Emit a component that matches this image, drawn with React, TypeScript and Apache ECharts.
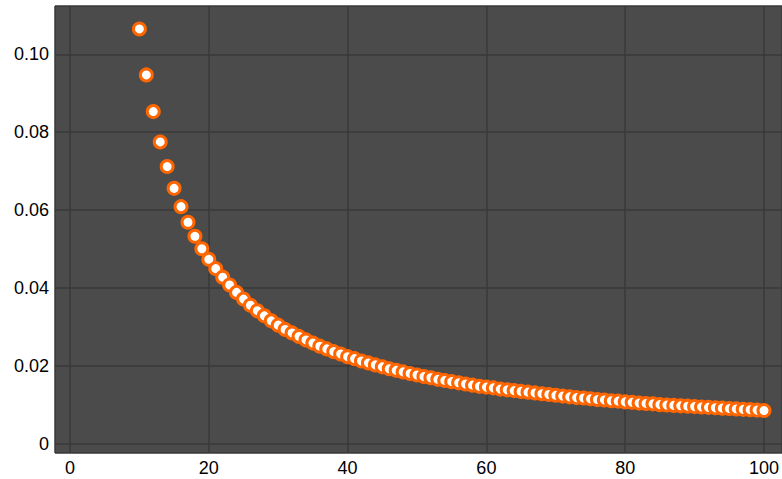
import React, { useEffect, useRef } from "react";
import * as echarts from "echarts";

const xValues: number[] = [
  10, 11, 12, 13, 14, 15, 16, 17, 18, 19,
  20, 21, 22, 23, 24, 25, 26, 27, 28, 29,
  30, 31, 32, 33, 34, 35, 36, 37, 38, 39,
  40, 41, 42, 43, 44, 45, 46, 47, 48, 49,
  50, 51, 52, 53, 54, 55, 56, 57, 58, 59,
  60, 61, 62, 63, 64, 65, 66, 67, 68, 69,
  70, 71, 72, 73, 74, 75, 76, 77, 78, 79,
  80, 81, 82, 83, 84, 85, 86, 87, 88, 89,
  90, 91, 92, 93, 94, 95, 96, 97, 98, 99,
  100,
];

const yValues: number[] = [
  0.1065, 0.0947, 0.0853, 0.0775, 0.0712, 0.0656, 0.0609, 0.0569, 0.0533, 0.0501,
  0.0474, 0.045, 0.0428, 0.0408, 0.0389, 0.0372, 0.0356, 0.0342, 0.0329, 0.0316,
  0.0305, 0.0294, 0.0285, 0.0276, 0.0267, 0.0259, 0.0251, 0.0244, 0.0237, 0.0231,
  0.0224, 0.0219, 0.0213, 0.0208, 0.0203, 0.0198, 0.0193, 0.0189, 0.0185, 0.0181,
  0.0177, 0.0173, 0.017, 0.0166, 0.0163, 0.016, 0.0157, 0.0154, 0.0151, 0.0148,
  0.0146, 0.0144, 0.0141, 0.0139, 0.0137, 0.0135, 0.0133, 0.0131, 0.0129, 0.0127,
  0.0125, 0.0123, 0.0121, 0.0119, 0.0118, 0.0116, 0.0114, 0.0113, 0.0111, 0.011,
  0.0108, 0.0107, 0.0105, 0.0104, 0.0103, 0.0101, 0.01, 0.0099, 0.0098, 0.0097,
  0.0096, 0.0095, 0.0094, 0.0093, 0.0092, 0.0091, 0.009, 0.0089, 0.0088, 0.0087,
  0.0086,
];

const xTickLabels: string[] = ["0", "20", "40", "60", "80", "100"];
const yTickLabels: string[] = ["0", "0.02", "0.04", "0.06", "0.08", "0.10"];

export default function App() {
  const ref = useRef<HTMLDivElement>(null);

  useEffect(() => {
    if (!ref.current) return;
    const chart = echarts.init(ref.current, null, { renderer: "svg" });
    const points = xValues.map((x, i) => [x, yValues[i]]);
    const fmtX = (v: number) => {
      const s = String(Math.round(v));
      return Math.abs(v - Math.round(v)) < 1e-6 && xTickLabels.includes(s) ? s : "";
    };
    const fmtY = (v: number) => {
      const s = v === 0 ? "0" : v.toFixed(2);
      return Math.abs(v * 50 - Math.round(v * 50)) < 1e-6 && yTickLabels.includes(s) ? s : "";
    };
    chart.setOption({
      animation: false,
      backgroundColor: "#ffffff",
      grid: {
        left: 55,
        top: 6,
        right: 0,
        bottom: 26,
        containLabel: false,
        show: true,
        backgroundColor: "#4b4b4b",
        borderWidth: 0,
      },
      xAxis: {
        type: "value",
        min: -2.161,
        max: 102.594,
        axisLine: { show: false },
        axisTick: { show: false },
        splitLine: { show: true, lineStyle: { color: "#393939", width: 1.5 } },
        axisLabel: {
          show: true,
          color: "#000000",
          fontSize: 18,
          fontFamily: "Liberation Sans, Arial, sans-serif",
          margin: 6,
          showMinLabel: false,
          showMaxLabel: false,
          formatter: fmtX,
        },
      },
      yAxis: {
        type: "value",
        min: -0.00231,
        max: 0.11239,
        axisLine: { show: false },
        axisTick: { show: false },
        splitLine: { show: true, lineStyle: { color: "#393939", width: 1.5 } },
        axisLabel: {
          show: true,
          color: "#000000",
          fontSize: 18,
          fontFamily: "Liberation Sans, Arial, sans-serif",
          margin: 6,
          showMinLabel: false,
          showMaxLabel: false,
          formatter: fmtY,
        },
      },
      series: [
        {
          type: "scatter",
          data: points,
          symbol: "circle",
          symbolSize: 12,
          itemStyle: {
            color: "#ffffff",
            borderColor: "#ff6600",
            borderWidth: 3,
            opacity: 1,
          },
          emphasis: { disabled: true },
        },
      ],
    });
    return () => {
      chart.dispose();
    };
  }, []);

  return (
    <div
      ref={ref}
      style={{ position: "fixed", left: 0, top: 0, width: 782, height: 479, background: "#fff" }}
    />
  );
}
